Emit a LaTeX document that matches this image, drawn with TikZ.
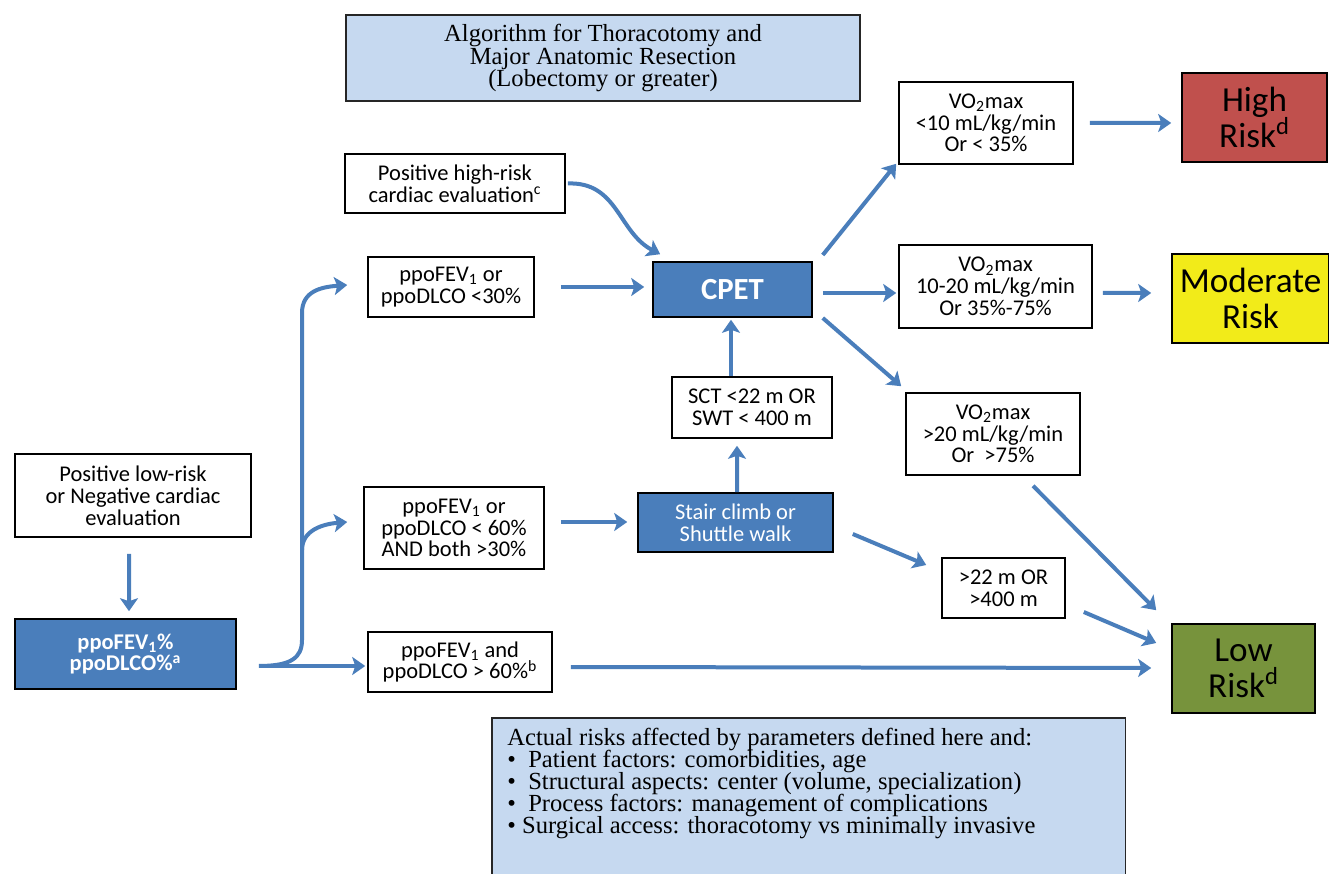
\documentclass[tikz,border=0pt]{standalone}
\usepackage{fontspec}
\setmainfont{Carlito}
\newfontfamily\serifx{Liberation Serif}
\usetikzlibrary{arrows.meta,calc}
\definecolor{nblue}{RGB}{74,126,187}
\definecolor{lblue}{RGB}{198,217,240}
\definecolor{hred}{RGB}{192,80,77}
\definecolor{myel}{RGB}{242,235,25}
\definecolor{lgrn}{RGB}{119,147,60}
\newcommand\bxf{\fontsize{12.8}{12.4}\selectfont\lineskiplimit=-20pt\relax}
\newcommand\rkf{\fontsize{20}{20.4}\selectfont\lineskiplimit=-20pt\relax}
\newcommand\titlef{\serifx\fontsize{14}{13}\selectfont\lineskiplimit=-20pt\relax}
\newcommand\notef{\serifx\fontsize{14}{12.5}\selectfont\lineskiplimit=-20pt\relax}
\begin{document}
\begin{tikzpicture}[x=0.02cm,y=-0.02cm,
  box/.style={draw=black, line width=0.9pt, fill=white, inner sep=0pt, align=center, font=\bxf},
  bbox/.style={box, fill=nblue, text=white},
  risk/.style={draw=black, line width=0.9pt, inner sep=0pt, align=center, font=\rkf},
  titlebox/.style={draw=black!85, line width=0.9pt, fill=lblue, inner sep=0pt, align=center, font=\titlef},
  notebox/.style={draw=black!85, line width=0.9pt, fill=lblue, inner sep=0pt},
  conn/.style={draw=nblue, line width=0.08cm},
  arr/.style={conn, -{Stealth[length=0.26cm, width=0.36cm, inset=0.06cm]}}
]
\useasboundingbox (0,0) rectangle (1329,874);

% nodes
\node[titlebox, minimum width=10.28cm, minimum height=1.72cm] (title) at (603,58)
  {Algorithm for Thoracotomy and\\Major Anatomic Resection\\(Lobectomy or greater)};
\node[box, minimum width=4.4cm, minimum height=1.18cm] (hrc) at (455,183.5)
  {Positive high-risk\\cardiac evaluation\textsuperscript{c}};
\node[box, minimum width=3.32cm, minimum height=1.2cm] (p30) at (451,287)
  {ppoFEV\textsubscript{1} or\\ppoDLCO <30\%};
\node[bbox, minimum width=3.18cm, minimum height=1.1cm, font=\fontsize{17.5}{18}\selectfont\bfseries] (cpet) at (732.5,289.5) {CPET};
\node[box, minimum width=3.2cm, minimum height=1.22cm] (sct) at (752,407.5)
  {SCT <22 m OR\\SWT < 400 m};
\node[bbox, minimum width=3.9cm, minimum height=1.18cm] (stair) at (735.5,522.5)
  {Stair climb or\\Shuttle walk};
\node[box, minimum width=3.48cm, minimum height=1.64cm] (v10) at (986,123)
  {VO\textsubscript{2}max\\<10 mL/kg/min\\Or < 35\%};
\node[risk, fill=hred, minimum width=2.9cm, minimum height=1.78cm] (high) at (1254.5,117.5)
  {High\\Risk\textsuperscript{d}};
\node[box, minimum width=3.86cm, minimum height=1.66cm] (v1020) at (995.5,286.5)
  {VO\textsubscript{2}max\\10-20 mL/kg/min\\Or 35\%-75\%};
\node[risk, fill=myel, minimum width=3.14cm, minimum height=1.78cm] (mod) at (1250.5,298.5)
  {Moderate\\Risk};
\node[box, minimum width=3.48cm, minimum height=1.64cm] (v20) at (993,434)
  {VO\textsubscript{2}max\\>20 mL/kg/min\\Or\ \ >75\%};
\node[box, minimum width=2.46cm, minimum height=1.2cm] (g22) at (1003.5,588)
  {>22 m OR\\>400 m};
\node[risk, fill=lgrn, minimum width=2.86cm, minimum height=1.78cm] (low) at (1243.5,668.5)
  {Low\\Risk\textsuperscript{d}};
\node[box, minimum width=4.72cm, minimum height=1.66cm] (plr) at (133,495.5)
  {Positive low-risk\\or Negative cardiac\\evaluation};
\node[bbox, minimum width=4.42cm, minimum height=1.4cm, font=\bxf\bfseries] (ppo) at (125.5,654)
  {ppoFEV\textsubscript{1}\%\\ppoDLCO\%\textsuperscript{a}};
\node[box, minimum width=3.6cm, minimum height=1.64cm] (p60) at (454,528)
  {ppoFEV\textsubscript{1} or\\ppoDLCO < 60\%\\AND both >30\%};
\node[box, minimum width=3.68cm, minimum height=1.2cm] (pg60) at (460,662)
  {ppoFEV\textsubscript{1} and\\ppoDLCO > 60\%\textsuperscript{b}};

\node[notebox, anchor=north west, minimum width=12.68cm, minimum height=3.2cm] (note) at (491,717) {};
\node[anchor=north west, align=left, inner sep=0pt, font=\notef] (notetext) at (507,728)
  {Actual risks affected by parameters defined here and:\\
   \textbullet\ \ Patient factors: comorbidities, age\\
   \textbullet\ \ Structural aspects: center (volume, specialization)\\
   \textbullet\ \ Process factors: management of complications\\
   \textbullet\ Surgical access: thoracotomy vs minimally invasive};

% connectors
\draw[arr] ($(plr.south)+(-4,16)$) -- ($(ppo.north)+(3.5,-7)$);

\coordinate (start) at ($(ppo.east)+(22,12)$);
\coordinate (jb) at (302,640);
\coordinate (jm) at (302,550);
\coordinate (jt) at (302,313);
\draw[arr] (start) .. controls +(32,0) and +(0,18) .. (jb) -- (jt)
  .. controls +(0,-22) and +(-26,2) .. ($(p30.west)+(-20,-2)$);
\draw[arr] (jm) .. controls +(0,-20) and +(-24,2) .. ($(p60.west)+(-16,-6)$);
\draw[arr] (start) -- ($(pg60.west)+(-2,4)$);

\draw[arr] ($(p30.east)+(26,0)$) -- ($(cpet.west)+(-8,-2.5)$);
\draw[arr] ($(hrc.east)+(2,0)$) .. controls +(50,-2) and +(-42,-22) .. ($(cpet.north west)+(8,-7)$);
\draw[arr] ($(p60.east)+(16,-6)$) -- ($(stair.west)+(-10,-0.5)$);
\draw[arr] ($(stair.north)+(1.5,0)$) -- ($(sct.south)+(-15,7)$);
\draw[arr] ($(sct.north)+(-21,0)$) -- ($(cpet.south)+(-1.5,2)$);

\draw[arr] ($(cpet.east)+(10,-34.5)$) -- ($(v10.south west)+(-2,-1)$);
\draw[arr] ($(cpet.east)+(10,3.5)$) -- ($(v1020.west)+(-2,6.5)$);
\draw[arr] ($(cpet.east)+(10,28.5)$) -- ($(v20.north west)+(-4,-6)$);

\draw[arr] ($(v10.east)+(16,0)$) -- ($(high.west)+(-10,5.5)$);
\draw[arr] ($(v1020.east)+(10,6.5)$) -- ($(mod.west)+(-20,-5.5)$);
\draw[arr] ($(v20.south)+(40,10)$) -- ($(low.north west)+(-15,-13)$);
\draw[arr] ($(stair.east)+(19,11.5)$) -- ($(g22.west)+(-15,-23)$);
\draw[arr] ($(g22.east)+(18,24)$) -- ($(low.west)+(-15,-25.5)$);
\draw[arr] ($(pg60.east)+(18,5)$) -- ($(low.west)+(-20,-0.5)$);
\end{tikzpicture}
\end{document}
